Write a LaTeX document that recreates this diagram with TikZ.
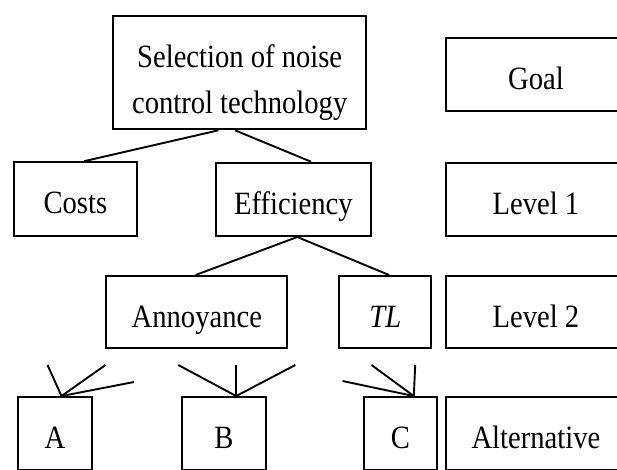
\documentclass[tikz,border=0pt]{standalone}
\usepackage{fontspec}
\setmainfont{Liberation Serif}[FakeStretch=0.88]
\begin{document}
\begin{tikzpicture}[x=1pt,y=-1pt,
  boxbase/.style={draw, line width=2pt, inner sep=0pt, font=\fontsize{32.5}{45.6}\selectfont},
  box/.style={boxbase, text height=36pt, text depth=6pt, minimum height=73.3pt},
  link/.style={line width=1.9pt}]
\useasboundingbox (0,0) rectangle (617,469);
\clip (0,0) rectangle (617,469);
% goal level
\node[boxbase, minimum width=252.6pt, minimum height=113.3pt, align=center] (top) at (239.7,72.65)
  {\rule{0pt}{42.6pt}Selection of noise\\control technology};
\node[box, minimum width=180.2pt] (goal) at (535.9,74.35) {Goal};
% level 1
\node[box, minimum width=123.2pt] (costs) at (75.4,198.9) {Costs};
\node[box, minimum width=155.3pt] (eff) at (293.35,199.35) {Efficiency};
\node[box, minimum width=180.2pt] (lev1) at (535.9,199.35) {Level 1};
% level 2
\node[box, minimum width=181.1pt, minimum height=72.3pt] (ann) at (196.85,312.15) {Annoyance};
\node[box, minimum width=91.7pt, minimum height=72.3pt] (tl) at (385.25,312.15) {\itshape TL};
\node[box, minimum width=180.2pt, minimum height=72.3pt] (lev2) at (535.9,312.15) {Level 2};
% alternatives
\node[box, minimum width=73.1pt] (A) at (55,433.7) {A};
\node[box, minimum width=83.4pt] (B) at (224,433.7) {B};
\node[box, minimum width=72.4pt] (C) at (400.5,433.7) {C};
\node[box, minimum width=180.2pt] (alt) at (535.9,433.7) {Alternative};
% connectors
\draw[link] ([xshift=-21.2pt]top.south) -- ([xshift=8.5pt]costs.north);
\draw[link] ([xshift=-4.7pt]top.south) -- ([xshift=17.7pt]eff.north);
\draw[link] ([xshift=3.9pt]eff.south) -- ([xshift=-1.2pt]ann.north);
\draw[link] ([xshift=3.9pt]eff.south) -- ([xshift=3.8pt]tl.north);
% free-ended connectors to alternatives
\coordinate (a1) at (47.5,365);
\coordinate (a2) at (105.5,365);
\coordinate (a3) at (134,382);
\coordinate (b1) at (178.3,365);
\coordinate (b2) at (236.2,365);
\coordinate (b3) at (295.3,365);
\coordinate (c1) at (342.5,381);
\coordinate (c2) at (371.5,365);
\coordinate (c3) at (415.2,365);
\foreach \p in {a1,a2,a3} \draw[link] (\p) -- ([xshift=6.5pt]A.north);
\foreach \p in {b1,b2,b3} \draw[link] (\p) -- ([xshift=12.2pt]B.north);
\foreach \p in {c1,c2,c3} \draw[link] (\p) -- ([xshift=13.3pt]C.north);
\end{tikzpicture}
\end{document}
